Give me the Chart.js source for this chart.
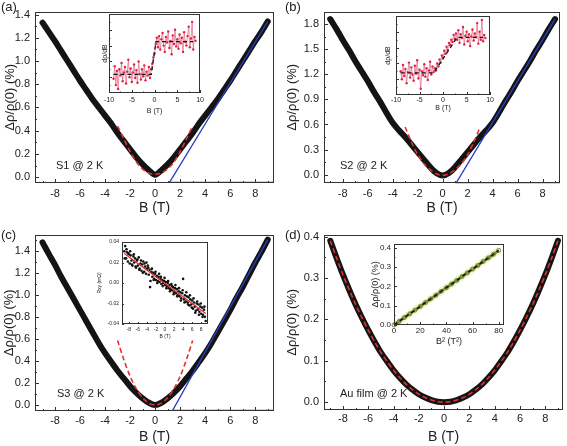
<!DOCTYPE html>
<html>
<head>
<meta charset="utf-8">
<script src="https://cdn.jsdelivr.net/npm/chart.js@4.4.1/dist/chart.umd.min.js"></script>
<style>
  body { margin: 0; background: #fff; }
  #fig { position: relative; width: 567px; height: 446px; overflow: hidden;
         font-family: 'Liberation Sans', Arial, sans-serif; color: #222; }
  #fig canvas { position: absolute; }
  .lbl { position: absolute; font-size: 13px; line-height: 14px; }
  .note { position: absolute; font-size: 11px; line-height: 12px; white-space: nowrap; }
</style>
</head>
<body>
<div id="fig">
  <canvas id="pa" width="283" height="223" style="left:0;top:0"></canvas>
  <canvas id="pb" width="284" height="223" style="left:283px;top:0"></canvas>
  <canvas id="pc" width="283" height="223" style="left:0;top:223px"></canvas>
  <canvas id="pd" width="284" height="223" style="left:283px;top:223px"></canvas>
  <canvas id="ia" width="115" height="110" style="left:92px;top:10px"></canvas>
  <canvas id="ib" width="116" height="108" style="left:379px;top:12px"></canvas>
  <canvas id="ic" width="117" height="105" style="left:95px;top:236px"></canvas>
  <canvas id="id" width="142" height="112" style="left:367px;top:236px"></canvas>
  <div class="lbl" style="left:1px;top:0">(a)</div>
  <div class="lbl" style="left:285px;top:0">(b)</div>
  <div class="lbl" style="left:1px;top:228px">(c)</div>
  <div class="lbl" style="left:285px;top:228px">(d)</div>
  <div class="note" style="left:56px;top:159px">S1 @ 2 K</div>
  <div class="note" style="left:340px;top:159px">S2 @ 2 K</div>
  <div class="note" style="left:57px;top:387px">S3 @ 2 K</div>
  <div class="note" style="left:340px;top:387px">Au film @ 2 K</div>
</div>
<script>
// magnetic field grid of the main panels (T)
const fieldB = [-9, -8.5, -8, -7.5, -7, -6.5, -6, -5.5, -5, -4.5, -4, -3.5, -3, -2.5, -2, -1.5, -1, -0.5, 0,
                0.5, 1, 1.5, 2, 2.5, 3, 3.5, 4, 4.5, 5, 5.5, 6, 6.5, 7, 7.5, 8, 8.5, 9];
// MR (%) of each sample
const mrS1 = [1.33, 1.25, 1.17, 1.085, 1.0, 0.915, 0.83, 0.75, 0.67, 0.6, 0.53, 0.46, 0.38, 0.31, 0.24, 0.17, 0.11, 0.06, 0.02,
              0.06, 0.11, 0.17, 0.24, 0.31, 0.38, 0.46, 0.53, 0.6, 0.67, 0.75, 0.83, 0.915, 1.0, 1.085, 1.17, 1.25, 1.34];
const mrS2 = [1.86, 1.74, 1.61, 1.49, 1.36, 1.24, 1.12, 0.99, 0.87, 0.74, 0.62, 0.53, 0.45, 0.36, 0.27, 0.18, 0.09, 0.02, -0.01,
              0.02, 0.09, 0.18, 0.27, 0.36, 0.45, 0.53, 0.62, 0.74, 0.87, 0.99, 1.12, 1.24, 1.36, 1.49, 1.61, 1.74, 1.86];
const mrS3 = [1.475, 1.37, 1.27, 1.16, 1.06, 0.96, 0.86, 0.76, 0.66, 0.56, 0.47, 0.39, 0.31, 0.24, 0.17, 0.11, 0.06, 0.02, 0.0,
              0.02, 0.06, 0.11, 0.17, 0.24, 0.31, 0.39, 0.47, 0.56, 0.66, 0.76, 0.86, 0.97, 1.07, 1.18, 1.29, 1.39, 1.5];
const mrAu = [0.39, 0.348, 0.308, 0.271, 0.236, 0.204, 0.174, 0.146, 0.12, 0.098, 0.077, 0.059, 0.043, 0.03, 0.019, 0.011, 0.005, 0.001, 0.0,
              0.001, 0.005, 0.011, 0.019, 0.03, 0.043, 0.059, 0.077, 0.098, 0.12, 0.146, 0.174, 0.204, 0.236, 0.271, 0.308, 0.348, 0.39];

// low-field fits (red dashed)
const fitField = [-3, -2.5, -2, -1.5, -1, -0.5, 0, 0.5, 1, 1.5, 2, 2.5, 3];
const fitS1 = [0.44, 0.33, 0.22, 0.13, 0.07, 0.035, 0.025, 0.035, 0.07, 0.13, 0.22, 0.33, 0.44];
const fitS2 = [0.57, 0.39, 0.24, 0.13, 0.06, 0.01, -0.01, 0.01, 0.06, 0.13, 0.24, 0.39, 0.57];
const fitS3 = [0.585, 0.41, 0.26, 0.146, 0.065, 0.016, 0.0, 0.016, 0.065, 0.146, 0.26, 0.41, 0.585];

// high-field linear fits (blue), [B, MR]
const linS1 = [[9.5, -0.045], [1.15, -0.045], [9, 1.34]];
const linS2 = [[9.4, -0.095], [1.1, -0.095], [9, 1.86]];
const linS3 = [[9.5, -0.05], [1.4, -0.05], [9, 1.5]];

// insets (a), (b): dρ/dB (arb. units)
const insetField = [-9, -8.75, -8.5, -8.25, -8, -7.75, -7.5, -7.25, -7, -6.75, -6.5, -6.25, -6, -5.75, -5.5, -5.25, -5,
  -4.75, -4.5, -4.25, -4, -3.75, -3.5, -3.25, -3, -2.75, -2.5, -2.25, -2, -1.75, -1.5, -1.25, -1, -0.75, -0.5, -0.25, 0,
  0.25, 0.5, 0.75, 1, 1.25, 1.5, 1.75, 2, 2.25, 2.5, 2.75, 3, 3.25, 3.5, 3.75, 4, 4.25, 4.5, 4.75, 5, 5.25, 5.5, 5.75, 6,
  6.25, 6.5, 6.75, 7, 7.25, 7.5, 7.75, 8, 8.25, 8.5, 8.75, 9];
const dS1 = [0.18, 0.34, 0.10, 0.28, 0.05, 0.30, 0.22, 0.38, 0.15, 0.26, 0.33, 0.12, 0.27, 0.42, 0.20, 0.31, 0.14, 0.26,
  0.36, 0.19, 0.29, 0.13, 0.40, 0.24, 0.17, 0.30, 0.21, 0.35, 0.16, 0.27, 0.22, 0.33, 0.19, 0.30, 0.37, 0.45, 0.50, 0.62,
  0.70, 0.58, 0.72, 0.55, 0.68, 0.76, 0.60, 0.52, 0.71, 0.64, 0.78, 0.57, 0.66, 0.49, 0.73, 0.62, 0.80, 0.59, 0.68, 0.56,
  0.74, 0.63, 0.70, 0.52, 0.77, 0.65, 0.60, 0.72, 0.84, 0.58, 0.69, 0.90, 0.55, 0.71, 0.66];
const dS2 = [0.30, 0.20, 0.38, 0.24, 0.33, 0.15, 0.29, 0.41, 0.22, 0.35, 0.26, 0.18, 0.37, 0.27, 0.44, 0.21, 0.32, 0.08,
  0.30, 0.25, 0.39, 0.23, 0.34, 0.19, 0.31, 0.42, 0.26, 0.36, 0.29, 0.34, 0.31, 0.40, 0.36, 0.45, 0.41, 0.50, 0.47, 0.56,
  0.52, 0.61, 0.57, 0.66, 0.63, 0.70, 0.67, 0.76, 0.71, 0.78, 0.70, 0.82, 0.66, 0.77, 0.72, 0.86, 0.64, 0.75, 0.80, 0.68,
  0.77, 0.62, 0.74, 0.83, 0.69, 0.78, 0.73, 0.91, 0.65, 0.80, 0.70, 0.95, 0.68, 0.76, 0.72];
const stepS1 = [[-9, 0.235], [-0.7, 0.235], [0.3, 0.65], [8.5, 0.65]];
const stepS2 = [[-9, 0.28], [-2, 0.28], [3, 0.73], [8.5, 0.73]];

// inset (c): Hall resistance Rxy (mΩ) vs B (T)
const rxy = [[-9, .031], [-8.8, .036], [-8.6, .024], [-8.4, .030], [-8.2, .021], [-8, .028], [-7.8, .019], [-7.6, .027],
  [-7.4, .022], [-7.2, .017], [-7, .026], [-6.8, .020], [-6.6, .024], [-6.4, .015], [-6.2, .022], [-6, .017], [-5.8, .025],
  [-5.6, .014], [-5.4, .019], [-5.2, .012], [-5, .018], [-4.8, .021], [-4.6, .011], [-4.4, .016], [-4.2, .009], [-4, .014],
  [-3.8, .017], [-3.6, .008], [-3.4, .013], [-3.2, .002], [-3, .011], [-2.8, .006], [-2.6, .010], [-2.4, .004], [-2.2, .009],
  [-2, .003], [-1.8, .007], [-1.6, .002], [-1.4, .006], [-1.2, .001], [-1, .004], [-0.8, -.001], [-0.6, .003], [-0.4, .000],
  [-0.2, .002], [0, -.002], [0.2, .001], [0.4, -.003], [0.6, .000], [0.8, -.005], [1, -.002], [1.2, -.006], [1.4, -.001],
  [1.6, -.007], [1.8, -.004], [2, -.009], [2.2, -.005], [2.4, -.010], [2.6, -.006], [2.8, -.012], [3, -.008], [3.2, -.013],
  [3.4, -.009], [3.6, -.015], [3.8, -.010], [4, .004], [4.2, -.016], [4.4, -.012], [4.6, -.018], [4.8, -.013], [5, -.019],
  [5.2, -.014], [5.4, -.022], [5.6, -.016], [5.8, -.021], [6, -.017], [6.2, -.025], [6.4, -.019], [6.6, -.023], [6.8, -.027],
  [7, -.020], [7.2, -.026], [7.4, -.021], [7.6, -.028], [7.8, -.023], [8, -.030], [8.2, -.024], [8.4, -.031], [8.6, -.026],
  [8.8, -.033], [9, -.037],
  [-8.9, .024], [-8.5, .033], [-8.1, .029], [-7.7, .031], [-7.3, .018], [-6.9, .028], [-6.5, .016], [-6.1, .023], [-5.7, .013],
  [-5.3, .022], [-4.9, .010], [-4.5, .019], [-4.1, .020], [-3.7, .015], [-3.3, -.004], [-2.9, .014], [-2.5, .003], [-2.1, .011],
  [-1.7, .000], [-1.3, .009], [-0.9, .006], [-0.5, -.003], [-0.1, .005], [0.3, -.005], [0.7, .002], [1.1, -.008], [1.5, -.003],
  [1.9, -.011], [2.3, -.002], [2.7, -.013], [3.1, -.005], [3.5, -.017], [3.9, -.007], [4.3, -.019], [4.7, -.009], [5.1, -.021],
  [5.5, -.012], [5.9, -.024], [6.3, -.015], [6.7, -.029], [7.1, -.018], [7.5, -.031], [7.9, -.020], [8.3, -.033], [8.7, -.023]];
const rxyFit = [[-9, 0.0288], [9, -0.0298]];

// inset (d): MR of Au vs B^2
const fieldSq = [0, 4, 8, 12, 16, 20, 24, 28, 32, 36, 40, 44, 48, 52, 56, 60, 64, 68, 72, 76, 80];
const mrAuSq = [0, 0.019, 0.039, 0.058, 0.077, 0.096, 0.116, 0.135, 0.154, 0.174, 0.193, 0.212, 0.231, 0.251, 0.27,
                0.289, 0.308, 0.328, 0.347, 0.366, 0.386];

// tick labels
const mainBTicks = [-8, -6, -4, -2, 0, 2, 4, 6, 8];
const yTicksA = [0, 0.2, 0.4, 0.6, 0.8, 1.0, 1.2, 1.4];
const yTicksB = [0, 0.3, 0.6, 0.9, 1.2, 1.5, 1.8];
const yTicksC = [0, 0.2, 0.4, 0.6, 0.8, 1.0, 1.2, 1.4];
const yTicksD = [0, 0.1, 0.2, 0.3, 0.4];
const insetBTicks = [-10, -5, 0, 5, 10];
const insetDerivTicks = [0.2, 0.4, 0.6, 0.8];
const rxyBTicks = [-8, -6, -4, -2, 0, 2, 4, 6, 8];
const rxyTicks = [-0.04, -0.02, 0, 0.02, 0.04];
const sqTicks = [0, 20, 40, 60, 80];
const auSqTicks = [0, 0.1, 0.2, 0.3, 0.4];

const FONT = "'Liberation Sans', Arial, sans-serif";
const INK = '#222';

const pairs = (xs, ys) => xs.map((x, i) => ({x: x, y: ys[i]}));
const pts = arr => arr.map(p => ({x: p[0], y: p[1]}));

// box around the plot area plus inward major/minor ticks
const frame = {
  id: 'frame',
  beforeDatasetsDraw(chart, args, o) {
    if (!o.fill) return;
    const a = chart.chartArea;
    chart.ctx.save();
    chart.ctx.fillStyle = '#fff';
    chart.ctx.fillRect(a.left, a.top, a.width, a.height);
    chart.ctx.restore();
  },
  afterDraw(chart, args, o) {
    const {ctx, chartArea: a, scales} = chart;
    ctx.save();
    ctx.strokeStyle = '#333';
    ctx.lineWidth = 1;
    ctx.strokeRect(Math.round(a.left) + 0.5, Math.round(a.top) + 0.5, Math.round(a.width) - 1, Math.round(a.height) - 1);
    ctx.beginPath();
    [scales.x, scales.y].forEach(s => {
      const vals = s.ticks.map(t => t.value);
      const step = vals[1] - vals[0];
      const minor = [];
      vals.forEach(v => [v - step / 2, v + step / 2].forEach(m => {
        if (m > s.min && m < s.max && !minor.some(q => Math.abs(q - m) < 1e-9)) minor.push(m);
      }));
      const mark = (v, len) => {
        const p = Math.round(s.getPixelForValue(v)) + 0.5;
        if (s.isHorizontal()) { ctx.moveTo(p, a.bottom); ctx.lineTo(p, a.bottom - len); }
        else { ctx.moveTo(a.left, p); ctx.lineTo(a.left + len, p); }
      };
      vals.forEach(v => mark(v, o.len));
      minor.forEach(v => mark(v, o.len / 2));
    });
    ctx.stroke();
    ctx.restore();
  }
};

function axis(o) {
  return {
    type: 'linear', min: o.min, max: o.max,
    afterBuildTicks: s => { s.ticks = o.ticks.map(v => ({value: v})); },
    afterFit: s => { if (s.isHorizontal()) s.height = o.size; else s.width = o.size; },
    grid: {display: false, drawTicks: false},
    border: {display: false},
    ticks: {
      display: o.labels !== false, padding: o.pad, color: INK,
      font: {family: FONT, size: o.fs},
      callback: o.fmt || (v => String(v))
    },
    title: {display: true, text: o.title, color: INK, font: {family: FONT, size: o.tfs}, padding: o.tpad}
  };
}

function draw(id, datasets, pad, xAx, yAx, fr) {
  return new Chart(document.getElementById(id), {
    type: 'scatter',
    data: {datasets: datasets},
    options: {
      responsive: false, animation: false, devicePixelRatio: 1,
      layout: {padding: pad},
      plugins: {legend: {display: false}, tooltip: {enabled: false}, frame: fr},
      scales: {x: axis(xAx), y: axis(yAx)}
    },
    plugins: [frame]
  });
}

const fixed1 = v => v.toFixed(1);
const fixed2 = v => v.toFixed(2);

function line(data, color, width, extra) {
  return Object.assign({data: data, showLine: true, borderColor: color, borderWidth: width,
    pointRadius: 0, tension: 0, clip: false}, extra || {});
}

// main panel builder
function mainPanel(id, mr, fit, lin, pad, ySize, xSize, yMin, yMax, yTicks, xMin, xMax, xPad, tBot, yTitlePad) {
  const ds = [line(pairs(fieldB, mr), '#141414', 6, {tension: 0.3, order: 3, borderCapStyle: 'round', borderJoinStyle: 'round'})];
  if (lin) ds.push(line(pts(lin), '#2a3fc4', 1.3, {order: 1}));
  if (fit) ds.push(line(fit, '#e0322f', 1.6, {tension: 0.3, borderDash: [5, 3], order: 0}));
  return draw(id, ds, pad,
    {min: xMin, max: xMax, ticks: mainBTicks, size: xSize, pad: xPad, fs: 11, title: 'B (T)', tfs: 14, tpad: {top: 0, bottom: tBot}},
    {min: yMin, max: yMax, ticks: yTicks, size: ySize, pad: 5, fs: 11, fmt: fixed1, title: 'Δρ/ρ(0) (%)', tfs: 13, tpad: {top: yTitlePad, bottom: 0}},
    {len: 4});
}

mainPanel('pa', mrS1, pairs(fitField, fitS1), linS1, {top: 3, right: 9}, 35, 40, -0.05, 1.425, yTicksA, -9.6, 9.5, 4, 6, 3);
mainPanel('pb', mrS2, pairs(fitField, fitS2), linS2, {top: 6, right: 7}, 41, 40, -0.1, 1.95, yTicksB, -9.5, 9.4, 4, 6, 2);
mainPanel('pc', mrS3, pairs(fitField, fitS3), linS3, {top: 10, right: 9}, 35, 35, -0.055, 1.545, yTicksC, -9.6, 9.5, 3, 0, 2);
mainPanel('pd', mrAu, pairs(fieldB, mrAu), null, {top: 10, right: 4}, 41, 36, -0.019, 0.405, yTicksD, -9.5, 9.4, 2, 0, 2);

// derivative insets
function derivInset(id, d, step, pad, tBot, xPad, yTitlePad) {
  return draw(id, [
      line(pairs(insetField, d), 'rgba(226,110,140,0.75)', 1, {pointRadius: 1.2, pointBackgroundColor: '#e3203f', pointBorderWidth: 0, order: 1}),
      line(pts(step), '#111', 1.3, {borderDash: [4, 3], order: 0})
    ], pad,
    {min: -10, max: 10, ticks: insetBTicks, size: pad.xs, pad: xPad, fs: 7, title: 'B (T)', tfs: 7, tpad: {top: 0, bottom: tBot}},
    {min: 0, max: 1, ticks: insetDerivTicks, size: 17, pad: 2, fs: 7, labels: false, title: 'dρ/dB', tfs: 7, tpad: {top: yTitlePad, bottom: 0}},
    {len: 3, fill: true});
}
derivInset('ia', dS1, stepS1, {top: 1, right: 3, xs: 27}, 5, 3, 9);
derivInset('ib', dS2, stepS2, {top: 1, right: 3, xs: 25}, 8, 1, 5);

// Hall inset
draw('ic', [
    {data: pts(rxy), pointRadius: 1.3, pointBackgroundColor: '#111', pointBorderWidth: 0, order: 1},
    line(pts(rxyFit), '#e0262b', 1.2, {order: 0})
  ], {top: 3, right: 4},
  {min: -9.5, max: 9.5, ticks: rxyBTicks, size: 17, pad: 3, fs: 5, title: 'B (T)', tfs: 5, tpad: {top: 0, bottom: 1}},
  {min: -0.04, max: 0.04, ticks: rxyTicks, size: 27, pad: 3, fs: 5, fmt: fixed2, title: 'Rxy (mΩ)', tfs: 5, tpad: {top: 2, bottom: 0}},
  {len: 2, fill: true});

// B^2 inset
draw('id', [
    line(pairs(fieldSq, mrAuSq), 'rgba(242,242,190,0.85)', 7, {order: 3}),
    line(pairs(fieldSq, mrAuSq), '#7f9c45', 3, {pointRadius: 2, pointBorderColor: '#6a8a32', pointBackgroundColor: 'rgba(0,0,0,0)', pointBorderWidth: 1, order: 2}),
    line(pairs(fieldSq, mrAuSq), '#111', 1.5, {borderDash: [4, 3], order: 0})
  ], {top: 4, right: 5},
  {min: 0, max: 84, ticks: sqTicks, size: 23, pad: 1, fs: 8, title: 'B² (T²)', tfs: 9, tpad: {top: 0, bottom: 1}},
  {min: 0, max: 0.42, ticks: auSqTicks, size: 27, pad: 3, fs: 8, fmt: fixed1, title: 'Δρ/ρ(0) (%)', tfs: 9, tpad: {top: 3, bottom: 0}},
  {len: 3, fill: true});
</script>
</body>
</html>
